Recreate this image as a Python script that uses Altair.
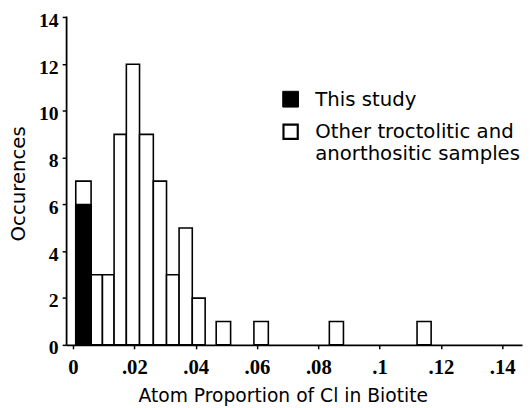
import altair as alt
import pandas as pd

# Histogram bins: left/right edges in atom proportion
bin_left = [0.0009, 0.0059, 0.0096, 0.0134, 0.0174, 0.0217, 0.0262, 0.0305, 0.0346, 0.0389,
            0.0467, 0.0590, 0.0836, 0.1122]
bin_right = [0.0059, 0.0096, 0.0134, 0.0174, 0.0217, 0.0262, 0.0305, 0.0346, 0.0389, 0.0431,
             0.0514, 0.0637, 0.0882, 0.1168]
total_counts = [7, 3, 3, 9, 12, 9, 7, 3, 5, 2, 1, 1, 1, 1]
study_counts = [6, 0, 0, 0, 0, 0, 0, 0, 0, 0, 0, 0, 0, 0]

legend_study = "This study"
legend_other = "Other troctolitic and\nanorthositic samples"

x_tick_values = [0, 0.01, 0.02, 0.03, 0.04, 0.05, 0.06, 0.07, 0.08, 0.09, 0.10, 0.11, 0.12, 0.13, 0.14]
x_label_values = [0, 0.02, 0.04, 0.06, 0.08, 0.10, 0.12, 0.14]
x_label_texts = ["0", ".02", ".04", ".06", ".08", ".1", ".12", ".14"]
y_tick_values = list(range(0, 15))
y_label_values = [0, 2, 4, 6, 8, 10, 12, 14]

x_title = "Atom Proportion of Cl in Biotite"
y_title = "Occurences"

df = pd.DataFrame({"x": bin_left, "x2": bin_right, "total": total_counts, "study": study_counts})

x_expr = "''"
for v, t in reversed(list(zip(x_label_values, x_label_texts))):
    x_expr = f"abs(datum.value - {v}) < 1e-6 ? '{t}' : ({x_expr})"
y_expr = "indexof(" + str(y_label_values) + ", datum.value) >= 0 ? datum.label : ''"

x_scale = alt.Scale(domain=[-0.00225, 0.14644], nice=False, zero=False)
y_scale = alt.Scale(domain=[0, 14.06], nice=False)

x_axis = alt.Axis(values=x_tick_values, labelExpr=x_expr, grid=False, tickSize=4, tickWidth=1.5,
                  tickColor="black", domainColor="black", domainWidth=1.8,
                  labelFont="Liberation Serif", labelFontSize=21, labelFontWeight="bold",
                  labelColor="black",
                  labelPadding=8, labelFlush=False, labelOverlap=False,
                  title=x_title, titleFont="DejaVu Sans", titleFontSize=19, titleFontWeight="normal",
                  titleColor="black", titleX=220, titleY=57, titleAlign="center",
                  titleBaseline="alphabetic", titleAnchor="start")
y_axis = alt.Axis(values=y_tick_values, labelExpr=y_expr, grid=False, tickSize=4, tickWidth=1.5,
                  tickColor="black", domainColor="black", domainWidth=1.8,
                  labelFont="Liberation Serif", labelFontSize=20, labelFontWeight="bold",
                  labelColor="black",
                  labelPadding=4, labelOffset=3, labelFlush=False, labelOverlap=False,
                  title=y_title, titleFont="DejaVu Sans", titleFontSize=20, titleFontWeight="normal",
                  titleColor="black", titleX=-42, titleY=170, titleAngle=270, titleAlign="center",
                  titleBaseline="alphabetic", titleAnchor="start")

base = alt.Chart(df)

others = base.mark_rect(fill="white", stroke="black", strokeWidth=1.6).encode(
    x=alt.X("x:Q", scale=x_scale, axis=x_axis),
    x2="x2:Q",
    y=alt.Y("total:Q", scale=y_scale, axis=y_axis),
    y2=alt.datum(0),
)

study = base.transform_filter("datum.study > 0").mark_rect(fill="black", stroke="black", strokeWidth=1.6).encode(
    x=alt.X("x:Q", scale=x_scale),
    x2="x2:Q",
    y=alt.Y("study:Q", scale=y_scale),
    y2=alt.datum(0),
)

leg_df = pd.DataFrame({"label": [legend_study, legend_other]})
leg1_sq = alt.Chart(leg_df.iloc[[0]]).mark_square(size=256, fill="black", stroke="black", strokeWidth=1,
                                                  opacity=1).encode(
    x=alt.value(228), y=alt.value(84.5))
leg2_sq = alt.Chart(leg_df.iloc[[1]]).mark_square(size=210, fill="white", stroke="black", strokeWidth=2.2,
                                                  opacity=1).encode(
    x=alt.value(228), y=alt.value(117.5))
leg1_tx = alt.Chart(leg_df.iloc[[0]]).mark_text(align="left", baseline="alphabetic", font="DejaVu Sans",
                                                fontSize=20, color="black").encode(
    x=alt.value(253), y=alt.value(91), text="label:N")
leg2_tx = alt.Chart(leg_df.iloc[[1]]).mark_text(align="left", baseline="alphabetic", font="DejaVu Sans",
                                                fontSize=20, color="black", lineBreak="\n",
                                                lineHeight=22).encode(
    x=alt.value(253), y=alt.value(124), text="label:N")

chart = alt.layer(others, study, leg1_sq, leg2_sq, leg1_tx, leg2_tx).properties(
    width=463, height=334,
    autosize=alt.AutoSizeParams(type="none"),
    padding={"left": 59, "top": 5, "right": 2, "bottom": 61},
).configure_view(stroke=None)

chart.save("out.html", embed_options={"renderer": "svg", "actions": False})
